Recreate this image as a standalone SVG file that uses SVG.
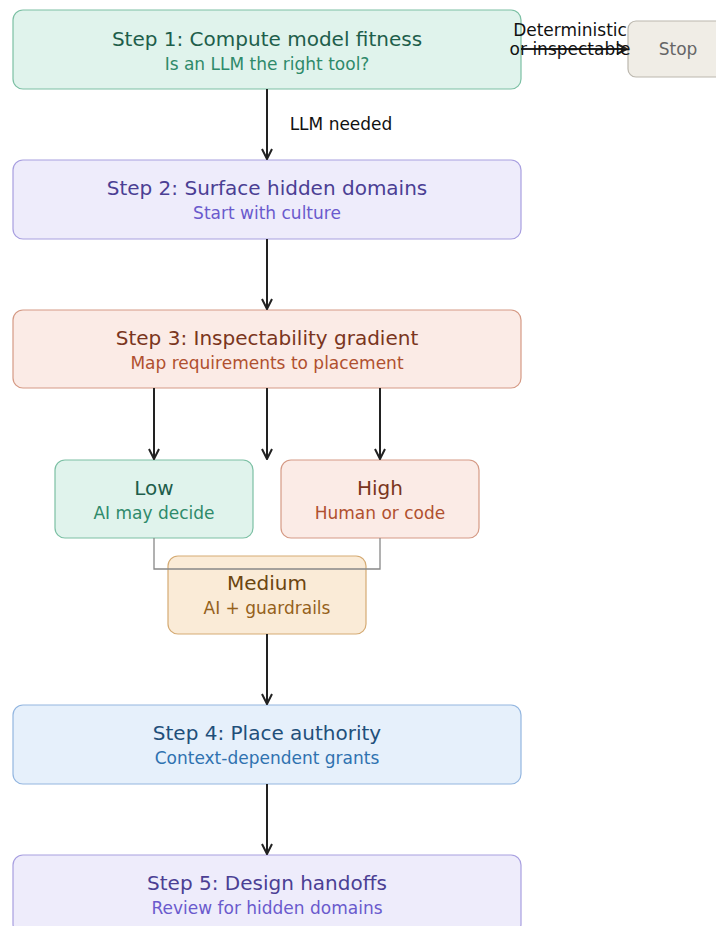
<svg xmlns="http://www.w3.org/2000/svg" width="716" height="926" viewBox="0 0 716 926">
<defs>
<marker id="ah" viewBox="0 0 12 12" refX="11" refY="6" markerWidth="12" markerHeight="12" markerUnits="userSpaceOnUse" orient="auto">
<path d="M1,1 L11,6 L1,11" fill="none" stroke="#222" stroke-width="2"/>
</marker>
<style>
text{font-family:"DejaVu Sans",sans-serif;text-anchor:middle}
.t{font-size:20px}.s{font-size:17px}
.e{stroke:#222;stroke-width:2;fill:none;marker-end:url(#ah)}
.green rect{fill:#e0f3ec;stroke:#7cc0a4}.green .t{fill:#1e5e4b}.green .s{fill:#2e8a6a}
.purple rect{fill:#eeecfb;stroke:#a89fe0}.purple .t{fill:#4b3f94}.purple .s{fill:#6a5acd}
.red rect{fill:#fbebe6;stroke:#d59a85}.red .t{fill:#7a3520}.red .s{fill:#b0502f}
.amber rect{fill:#faebd7;stroke:#d5ab74}.amber .t{fill:#6b4510}.amber .s{fill:#95611b}
.blue rect{fill:#e6f0fb;stroke:#93b6e0}.blue .t{fill:#1f4f7a}.blue .s{fill:#2f72b0}
.gray rect{fill:#f0ede6;stroke:#bbb7ae}
.lbl{font-size:17px;fill:#111}
rect{stroke-width:1.2}
</style>
</defs>
<g id="step1" class="green"><rect x="13" y="10" width="508" height="79" rx="10"/><text class="t" x="267" y="46">Step 1: Compute model fitness</text><text class="s" x="267" y="70">Is an LLM the right tool?</text></g>
<g id="stop" class="gray"><rect x="628" y="21" width="100" height="56" rx="8"/><text class="s" x="678" y="55" style="fill:#666">Stop</text></g>
<g id="step2" class="purple"><rect x="13" y="160" width="508" height="79" rx="10"/><text class="t" x="267" y="195">Step 2: Surface hidden domains</text><text class="s" x="267" y="219">Start with culture</text></g>
<g id="step3" class="red"><rect x="13" y="310" width="508" height="78" rx="10"/><text class="t" x="267" y="345">Step 3: Inspectability gradient</text><text class="s" x="267" y="369">Map requirements to placement</text></g>
<g id="low" class="green"><rect x="55" y="460" width="198" height="78" rx="10"/><text class="t" x="154" y="495">Low</text><text class="s" x="154" y="519">AI may decide</text></g>
<g id="high" class="red"><rect x="281" y="460" width="198" height="78" rx="10"/><text class="t" x="380" y="495">High</text><text class="s" x="380" y="519">Human or code</text></g>
<g id="medium" class="amber"><rect x="168" y="556" width="198" height="78" rx="10"/><text class="t" x="267" y="590">Medium</text><text class="s" x="267" y="614">AI + guardrails</text></g>
<g id="step4" class="blue"><rect x="13" y="705" width="508" height="79" rx="10"/><text class="t" x="267" y="740">Step 4: Place authority</text><text class="s" x="267" y="764">Context-dependent grants</text></g>
<g id="step5" class="purple"><rect x="13" y="855" width="508" height="79" rx="10"/><text class="t" x="267" y="890">Step 5: Design handoffs</text><text class="s" x="267" y="914">Review for hidden domains</text></g>
<g id="connectors">
<path class="e" d="M521,49 H627"/>
<text class="lbl" x="570" y="36">Deterministic</text>
<text class="lbl" x="570" y="55">or inspectable</text>
<path class="e" d="M267,89 V159"/>
<text class="lbl" x="341" y="130">LLM needed</text>
<path class="e" d="M267,239 V309"/>
<path class="e" d="M154,388 V459"/>
<path class="e" d="M267,388 V459"/>
<path class="e" d="M380,388 V459"/>
<path d="M154,538 V569 H380 V538" fill="none" stroke="#888" stroke-width="1.3"/>
<path class="e" d="M267,634 V704"/>
<path class="e" d="M267,784 V854"/>
</g>
</svg>
